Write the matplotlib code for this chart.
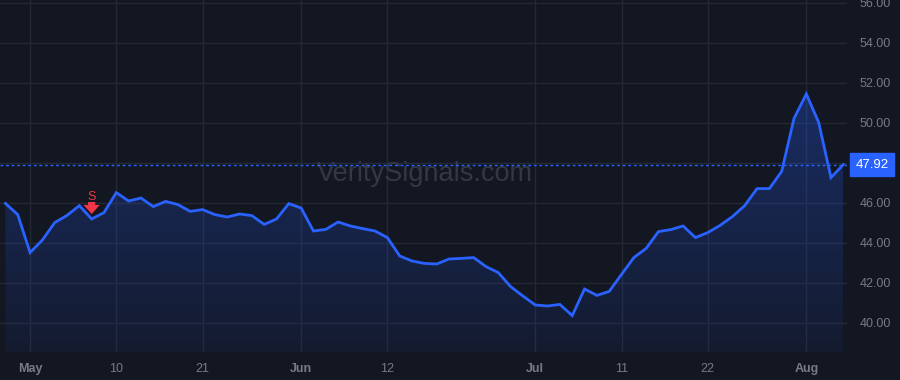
import numpy as np
import pandas as pd
import matplotlib
matplotlib.use("Agg")
import matplotlib.pyplot as plt
from matplotlib.patches import Polygon

# trading days Apr 29 - Aug 6 2024 (US market holidays removed)
holidays = ["2024-05-27", "2024-06-19", "2024-07-04"]
dates = pd.bdate_range("2024-04-29", "2024-08-06")
dates = dates[~dates.isin(pd.to_datetime(holidays))]

prices = [
    45.98, 45.42, 43.52, 44.15, 45.02, 45.38, 45.87, 45.20, 45.52, 46.52,
    46.10, 46.25, 45.82, 46.08, 45.92, 45.58, 45.67, 45.42, 45.30, 45.45,
    45.37, 44.93, 45.20, 45.97, 45.75, 44.60, 44.68, 45.05, 44.85, 44.72,
    44.60, 44.27, 43.35, 43.10, 42.98, 42.95, 43.20, 43.23, 43.27, 42.82,
    42.52, 41.82, 41.35, 40.90, 40.85, 40.93, 40.37, 41.70, 41.38, 41.58,
    42.43, 43.27, 43.73, 44.57, 44.67, 44.85, 44.27, 44.52, 44.88, 45.32,
    45.87, 46.72, 46.72, 47.58, 50.23, 51.45, 50.03, 47.27, 47.92,
]

tick_dates = ["2024-05-01", "2024-05-10", "2024-05-21", "2024-06-03", "2024-06-12",
              "2024-07-01", "2024-07-11", "2024-07-22", "2024-08-01"]
tick_labels = ["May", "10", "21", "Jun", "12", "Jul", "11", "22", "Aug"]
month_labels = {"May", "Jun", "Jul", "Aug"}
y_ticks = [40, 42, 44, 46, 48, 50, 52, 54, 56]

signal_date = "2024-05-08"
signal_label = "S"
last_price = prices[-1]

BG = "#131722"
GRID = "#242833"
LINE = "#2962ff"
TEXT = "#787b86"
RED = "#f23645"

plt.rcParams["font.family"] = ["Liberation Sans", "DejaVu Sans"]

x = np.arange(len(prices))
y = np.array(prices)
date_idx = {d.strftime("%Y-%m-%d"): i for i, d in enumerate(dates)}

fig = plt.figure(figsize=(9, 3.8), dpi=100, facecolor=BG)
ax = fig.add_axes([0, 28 / 380, 847 / 900, 352 / 380])
ax.set_facecolor(BG)

x_lo, x_hi = -0.44, 68.3
y_lo, y_hi = 38.55, 56.15
ax.set_xlim(x_lo, x_hi)
ax.set_ylim(y_lo, y_hi)

# grid
xt = [date_idx[d] for d in tick_dates]
for t in xt:
    ax.axvline(t, color=GRID, lw=1, zorder=0)
for t in y_ticks:
    ax.axhline(t, color=GRID, lw=1, zorder=0)

# gradient fill under the line
grad = np.linspace(0.0, 1.0, 256).reshape(-1, 1)
cmap = matplotlib.colors.LinearSegmentedColormap.from_list(
    "fill", [(0, (0.16, 0.38, 1.0, 0.06)), (1, (0.16, 0.38, 1.0, 0.30))])
img = ax.imshow(grad, cmap=cmap, aspect="auto", origin="lower",
                extent=[x[0], x[-1], y_lo, y.max()], zorder=1)
poly = Polygon(np.column_stack([np.r_[x[0], x, x[-1]], np.r_[y_lo, y, y_lo]]),
               closed=True, facecolor="none", edgecolor="none")
ax.add_patch(poly)
img.set_clip_path(poly)

ax.plot(x, y, color=LINE, lw=2, zorder=3, solid_joinstyle="miter")

# last price dotted line
ax.axhline(last_price, color=LINE, lw=1, ls=(0, (2, 2)), zorder=2)

# sell signal
sx = date_idx[signal_date]
ax.annotate("", xy=(sx, 45.45), xytext=(sx, 46.05),
            arrowprops=dict(arrowstyle="simple,head_width=0.9,head_length=0.5,tail_width=0.4",
                            color=RED, lw=0, mutation_scale=13,
                            shrinkA=0, shrinkB=0), zorder=4)
ax.text(sx, 46.3, signal_label, color=RED, fontsize=9, ha="center", va="center", zorder=4)

# watermark
ax.text(0.502, 0.507, "VeritySignals.com", transform=ax.transAxes, color="#343844",
        fontsize=19.5, ha="center", va="center", zorder=0.5)

# x ticks
ax.set_xticks(xt)
ax.set_xticklabels(tick_labels)
for lab in ax.get_xticklabels():
    if lab.get_text() in month_labels:
        lab.set_fontweight("bold")
ax.tick_params(axis="x", colors=TEXT, labelsize=9, length=0, pad=8)

# y ticks on the right (48.00 is covered by the last price tag)
ax.yaxis.tick_right()
ax.set_yticks(y_ticks)
ax.set_yticklabels(["" if v == 48 else f"{v:.2f}" for v in y_ticks])
ax.tick_params(axis="y", colors=TEXT, labelsize=9, length=0, pad=9)
for lab in ax.get_xticklabels() + ax.get_yticklabels():
    lab.set_color(TEXT)

for s in ax.spines.values():
    s.set_visible(False)

# last price tag
ax.annotate(f"{last_price:.2f}", xy=(1.0, last_price), xycoords=("axes fraction", "data"),
            xytext=(6, 0), textcoords="offset points", color="white", fontsize=9.5,
            ha="left", va="center",
            bbox=dict(boxstyle="square,pad=0.42", fc=LINE, ec=LINE))

fig.savefig("out.png", dpi=100, facecolor=BG)
